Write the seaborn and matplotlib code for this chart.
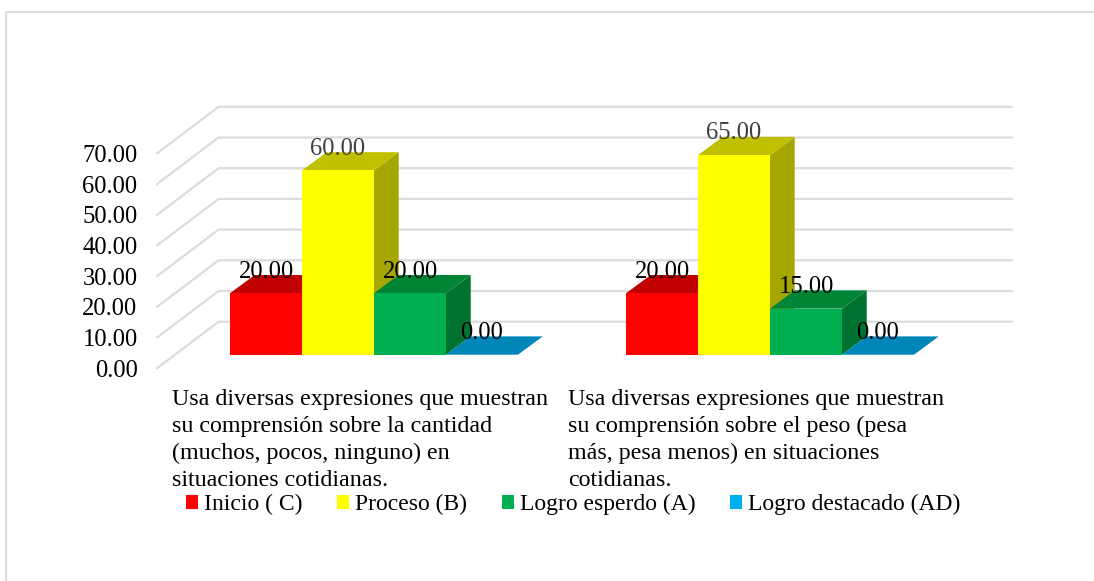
import matplotlib
matplotlib.use("Agg")
import matplotlib.pyplot as plt
from matplotlib.patches import Rectangle, Polygon
from matplotlib.transforms import ScaledTranslation
import pandas as pd
import seaborn as sns

categories = [
    "Usa diversas expresiones que muestran\nsu comprensión sobre la cantidad\n(muchos, pocos, ninguno) en\nsituaciones cotidianas.",
    "Usa diversas expresiones que muestran\nsu comprensión sobre el peso (pesa\nmás, pesa menos) en situaciones\ncotidianas.",
]
series_names = ["Inicio ( C)", "Proceso (B)", "Logro esperdo (A)", "Logro destacado (AD)"]
inicio = [20.0, 20.0]
proceso = [60.0, 65.0]
logro = [20.0, 15.0]
destacado = [0.0, 0.0]
y_ticks = [0, 10, 20, 30, 40, 50, 60, 70]

front_colors = ["#FF0000", "#FFFF00", "#00B050", "#00B0F0"]
top_colors = ["#C00000", "#C0C000", "#008537", "#0086B8"]
side_colors = ["#A60000", "#A6A600", "#007230", "#00739C"]
label_colors = ["#000000", "#404040", "#000000", "#000000"]

W, H = 1094, 581
DPI = 100
sns.set_theme(style="white")
plt.rcParams["font.family"] = ["Liberation Serif", "DejaVu Serif"]
FS_NUM = 17.7
FS_CAT = 17.3
FS_LEG = 17.0

fig = plt.figure(figsize=(W / DPI, H / DPI), dpi=DPI, facecolor="white")
L, R, T, B = 157.0, 1012.0, 100.0, 370.0
ax = fig.add_axes([L / W, 1 - B / H, (R - L) / W, (B - T) / H])
ax.patch.set_alpha(0)

frame = Rectangle((6 / W, 1 - 12 / H), 1.2, -1.2, transform=fig.transFigure,
                  fill=False, ec="#DDDDDD", lw=1.6)
fig.add_artist(frame)

df = pd.DataFrame({
    "cat": categories * 4,
    "serie": [s for s in series_names for _ in categories],
    "valor": inicio + proceso + logro + destacado,
})
GROUP_PX = 396.0
Y_PX = 3.07
sns.barplot(data=df, x="cat", y="valor", hue="serie", hue_order=series_names,
            palette=front_colors, width=288 / GROUP_PX, gap=0, saturation=1,
            errorbar=None, ax=ax, zorder=5, linewidth=0, legend=False)

X0, BASE = 374.0, 354.7
ax.set_xlim((L - X0) / GROUP_PX, (R - X0) / GROUP_PX)
ax.set_ylim((BASE - B) / Y_PX, (BASE - T) / Y_PX)

# Excel-style 3-D depth
DX, DY = 24.7 / GROUP_PX, 18.3 / Y_PX
WALL_DX, WALL_DY = 61.6 / GROUP_PX, 46.6 / Y_PX
FRONT_DY = (368.3 - BASE) / Y_PX

z = 2
for i, container in enumerate(ax.containers):
    for bar in container:
        x0, w, h = bar.get_x(), bar.get_width(), bar.get_height()
        if h > 0:
            ax.add_patch(Polygon([(x0 + w, 0), (x0 + w + DX, DY), (x0 + w + DX, h + DY), (x0 + w, h)],
                                 fc=side_colors[i], ec="none", zorder=z))
        ax.add_patch(Polygon([(x0, h), (x0 + DX, h + DY), (x0 + w + DX, h + DY), (x0 + w, h)],
                             fc=top_colors[i], ec="none", zorder=z + 0.1))
    z += 0.2
    texts = ax.bar_label(container, fmt="%.2f", padding=15.6, fontsize=FS_NUM,
                         color=label_colors[i], zorder=8)
    for t in texts:
        t.set_va("center")

xl = ax.get_xlim()
for v in y_ticks:
    front_y = v - FRONT_DY
    back_x = xl[0] + WALL_DX
    back_y = front_y + WALL_DY
    ax.plot([xl[0], back_x, xl[1]], [front_y, back_y, back_y], color="#DCDCDC", lw=1.6,
            zorder=1, clip_on=False, solid_joinstyle="miter")

ax.set_yticks([v - FRONT_DY for v in y_ticks])
ax.set_yticklabels([f"{v:.2f}" for v in y_ticks], fontsize=FS_NUM, color="#000000")
ax.tick_params(axis="y", length=0, pad=14)
ax.tick_params(axis="x", length=0, pad=13.5)
ax.set_xlabel("")
ax.set_ylabel("")
ax.set_xticks([0, 1])
ax.set_xticklabels(categories, fontsize=FS_CAT, color="#000000", ha="left", multialignment="left", linespacing=1.37)
shift = ScaledTranslation((172 - X0) / DPI, 0, fig.dpi_scale_trans)
for lab in ax.get_xticklabels():
    lab.set_transform(lab.get_transform() + shift)
for s in ax.spines.values():
    s.set_visible(False)

handles = [Rectangle((0, 0), 1, 1, fc=c, ec="none") for c in front_colors]
fig.legend(handles, series_names, ncol=4, loc="upper left",
           bbox_to_anchor=(186 / W, 1 - 494 / H), frameon=False, fontsize=FS_LEG,
           labelcolor="#000000", handlelength=0.5, handleheight=0.5, handletextpad=0.25,
           columnspacing=1.485, borderpad=0, borderaxespad=0, labelspacing=0)

fig.savefig("out.png", dpi=DPI, facecolor="white")
